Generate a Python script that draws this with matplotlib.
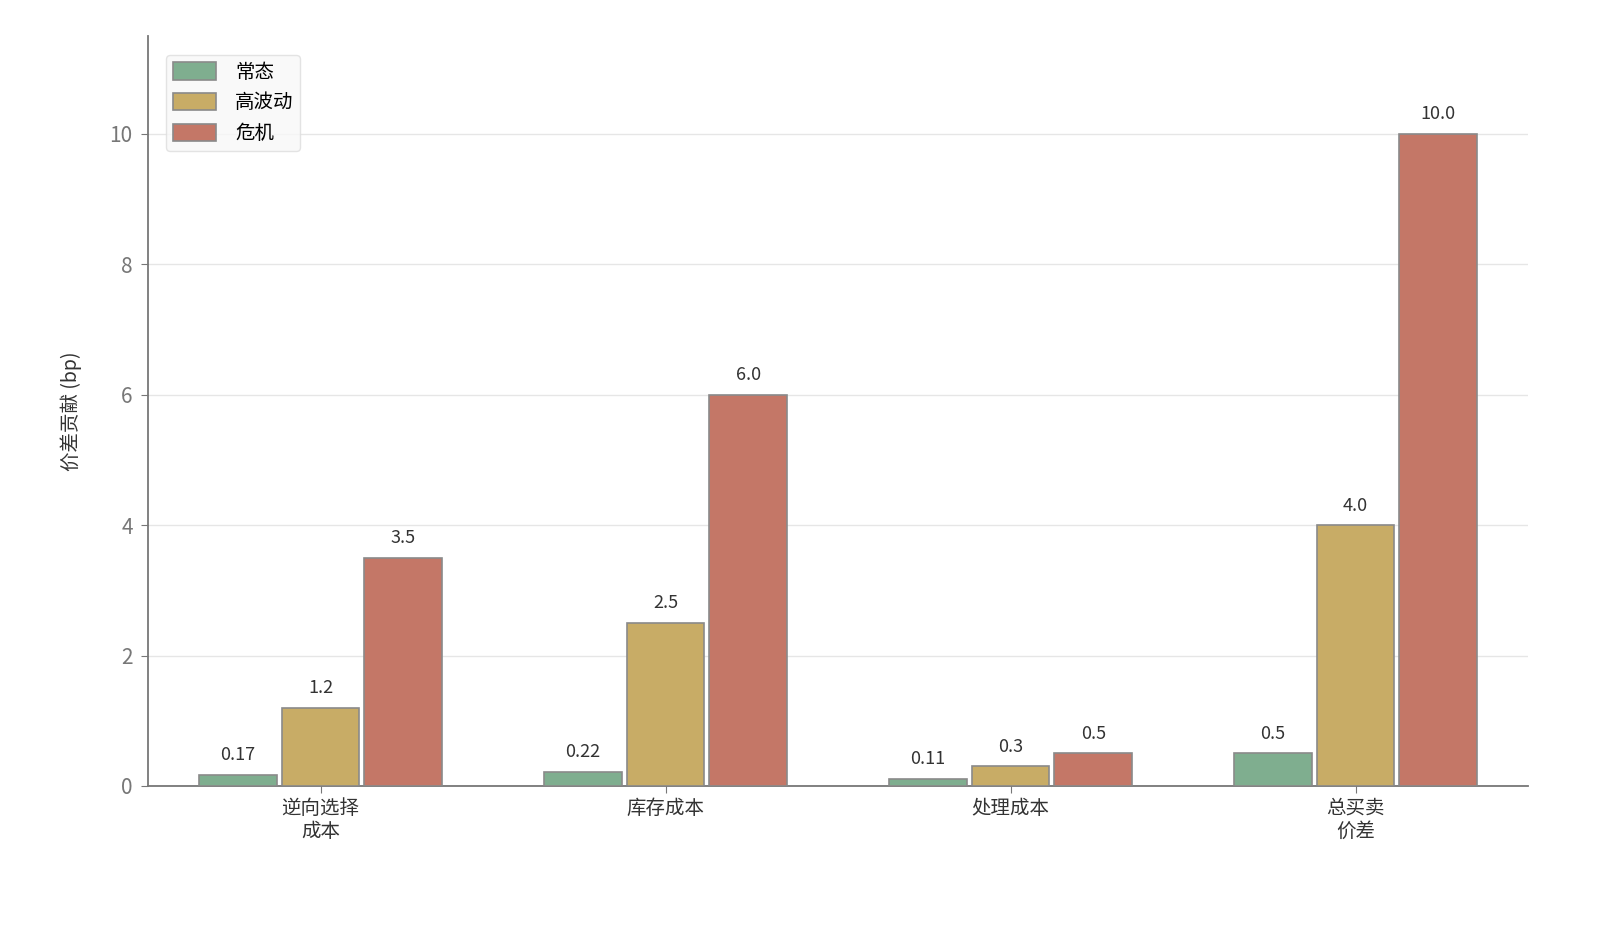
import matplotlib
matplotlib.use("Agg")
import matplotlib.pyplot as plt
import numpy as np

plt.rcParams['font.family'] = ['Noto Sans CJK SC', 'DejaVu Sans']

categories = ["逆向选择\n成本", "库存成本", "处理成本", "总买卖\n价差"]
series_names = ["常态", "高波动", "危机"]
normal = [0.17, 0.22, 0.11, 0.5]
high_vol = [1.2, 2.5, 0.3, 4.0]
crisis = [3.5, 6.0, 0.5, 10.0]
colors = ["#7fae8f", "#c8ac66", "#c47767"]

fig = plt.figure(figsize=(16, 9.33), dpi=100)
ax = fig.add_axes([0.0925, 0.1576, 0.8625, 0.8038])

x = np.arange(len(categories))
step = 0.24
width = 0.226
for i, (vals, name, c) in enumerate(zip([normal, high_vol, crisis], series_names, colors)):
    pos = x + (i - 1) * step
    ax.bar(pos, vals, width, color=c, edgecolor="#8a8a8a", linewidth=1.2, label=name, zorder=3)
    for p, v in zip(pos, vals):
        ax.text(p, v + 0.16, str(v), ha="center", va="bottom", fontsize=13, color="#333333", zorder=4)

ax.set_xlim(-0.5, 3.5)
ax.set_ylim(0, 11.5)
ax.set_yticks([0, 2, 4, 6, 8, 10])
ax.set_xticks(x)
ax.set_xticklabels(categories, fontsize=14, color="#333333", linespacing=1.15)
ax.tick_params(axis="y", labelsize=15, labelcolor="#777777", color="#777777", length=5, pad=6)
ax.tick_params(axis="x", length=5, color="#777777")
ax.set_ylabel("价差贡献 (bp)", fontsize=14, color="#333333", labelpad=20)
ax.yaxis.grid(True, color="#e6e6e6", linewidth=1, zorder=0)
ax.set_axisbelow(True)
for s in ["top", "right"]:
    ax.spines[s].set_visible(False)
for s in ["left", "bottom"]:
    ax.spines[s].set_color("#777777")
    ax.spines[s].set_linewidth(1.3)

leg = ax.legend(loc="upper left", fontsize=14, frameon=True, handlelength=2.2, handleheight=1.0,
                borderpad=0.35, labelspacing=0.5, handletextpad=1.0, fancybox=True,
                bbox_to_anchor=(0.006, 0.988))
leg.get_frame().set_edgecolor("#dddddd")
leg.get_frame().set_facecolor("#f8f8f8")
for h in leg.legend_handles:
    h.set_edgecolor("#8a8a8a")

fig.savefig("out.png", dpi=100)
